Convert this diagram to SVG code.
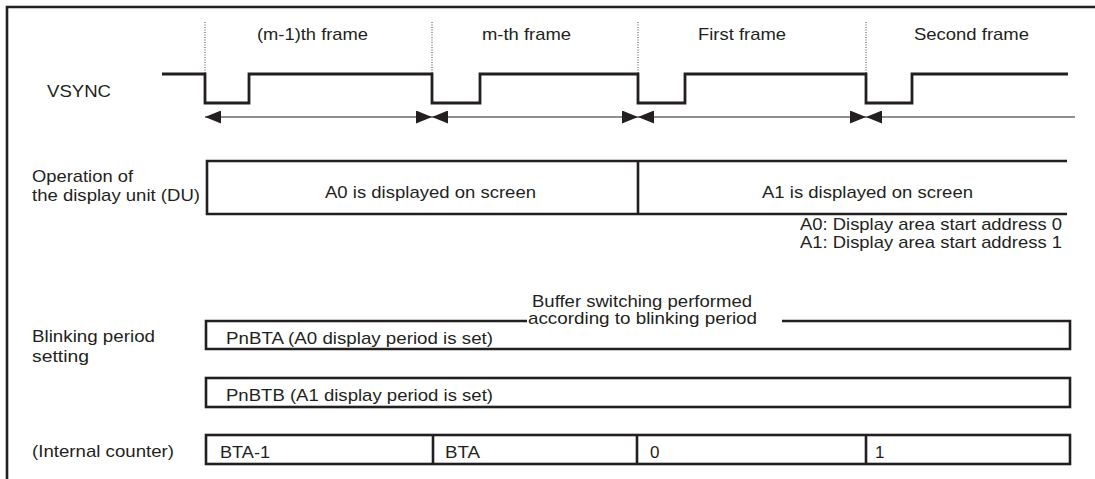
<svg xmlns="http://www.w3.org/2000/svg" width="1095" height="479" viewBox="0 0 1095 479">
<style>
  text { font-family: "Liberation Sans", Arial, sans-serif; font-size: 17px; fill: #231f20; }
  .thick { fill: none; stroke: #231f20; stroke-width: 2.6; }
  .wave { fill: none; stroke: #231f20; stroke-width: 2.8; }
  .thin { fill: none; stroke: #231f20; stroke-width: 1.2; }
  .dot { fill: none; stroke: #444; stroke-width: 1; stroke-dasharray: 1 1.5; }
</style>
<defs>
  <marker id="ah" markerUnits="userSpaceOnUse" markerWidth="16" markerHeight="13" refX="16" refY="6.5" orient="auto-start-reverse" viewBox="0 0 16 13">
    <path d="M0,0 L16,6.5 L0,13 z" fill="#231f20"/>
  </marker>
</defs>
<rect width="1095" height="479" fill="#fff"/>
<g id="frame">
  <path class="thick" d="M7,479 V7 H1095"/>
</g>
<g id="frame-labels">
  <line class="dot" x1="205" y1="22" x2="205" y2="74"/>
  <line class="dot" x1="432" y1="22" x2="432" y2="74"/>
  <line class="dot" x1="638" y1="22" x2="638" y2="74"/>
  <line class="dot" x1="866" y1="22" x2="866" y2="74"/>
  <text x="257" y="40" textLength="111" lengthAdjust="spacingAndGlyphs">(m-1)th frame</text>
  <text x="482" y="40" textLength="89" lengthAdjust="spacingAndGlyphs">m-th frame</text>
  <text x="698" y="40" textLength="88" lengthAdjust="spacingAndGlyphs">First frame</text>
  <text x="914" y="40" textLength="115" lengthAdjust="spacingAndGlyphs">Second frame</text>
</g>
<g id="vsync">
  <text x="47" y="97" textLength="64" lengthAdjust="spacingAndGlyphs">VSYNC</text>
  <path class="wave" d="M162,74 H205 V103 H249 V74 H432 V103 H480 V74 H638 V103 H685 V74 H866 V103 H912 V74 H1068"/>
</g>
<g id="connectors">
  <line class="thin" x1="205" y1="117" x2="432" y2="117" marker-start="url(#ah)" marker-end="url(#ah)"/>
  <line class="thin" x1="432" y1="117" x2="638" y2="117" marker-start="url(#ah)" marker-end="url(#ah)"/>
  <line class="thin" x1="638" y1="117" x2="866" y2="117" marker-start="url(#ah)" marker-end="url(#ah)"/>
  <line class="thin" x1="866" y1="117" x2="1075" y2="117" marker-start="url(#ah)"/>
</g>
<g id="du">
  <text x="32" y="182" textLength="101" lengthAdjust="spacingAndGlyphs">Operation of</text>
  <text x="32" y="201" textLength="168" lengthAdjust="spacingAndGlyphs">the display unit (DU)</text>
  <path class="thick" d="M1067,161 H207 V214 H1067 M638,161 V214"/>
  <text x="325" y="198" textLength="211" lengthAdjust="spacingAndGlyphs">A0 is displayed on screen</text>
  <text x="762" y="198" textLength="211" lengthAdjust="spacingAndGlyphs">A1 is displayed on screen</text>
</g>
<g id="legend">
  <text x="800" y="230" textLength="262" lengthAdjust="spacingAndGlyphs">A0: Display area start address 0</text>
  <text x="800" y="248" textLength="262" lengthAdjust="spacingAndGlyphs">A1: Display area start address 1</text>
</g>
<g id="blinking">
  <text x="32" y="342" textLength="123" lengthAdjust="spacingAndGlyphs">Blinking period</text>
  <text x="32" y="362" textLength="57" lengthAdjust="spacingAndGlyphs">setting</text>
  <text x="532" y="307" textLength="220" lengthAdjust="spacingAndGlyphs">Buffer switching performed</text>
  <text x="528" y="324" textLength="229" lengthAdjust="spacingAndGlyphs">according to blinking period</text>
</g>
<g id="pnbta">
  <path class="thick" d="M527,321 H206 V349 H1070 V321 H782"/>
  <text x="226" y="344" textLength="267" lengthAdjust="spacingAndGlyphs">PnBTA (A0 display period is set)</text>
</g>
<g id="pnbtb">
  <rect class="thick" x="206" y="378" width="864" height="29"/>
  <text x="226" y="401" textLength="267" lengthAdjust="spacingAndGlyphs">PnBTB (A1 display period is set)</text>
</g>
<g id="counter">
  <text x="32" y="457" textLength="142" lengthAdjust="spacingAndGlyphs">(Internal counter)</text>
  <rect class="thick" x="206" y="435" width="864" height="29"/>
  <path class="thick" d="M433,435 V464 M637,435 V464 M866,435 V464"/>
  <text x="220" y="458" textLength="50" lengthAdjust="spacingAndGlyphs">BTA-1</text>
  <text x="445" y="458" textLength="35" lengthAdjust="spacingAndGlyphs">BTA</text>
  <text x="650" y="458">0</text>
  <text x="875" y="458">1</text>
</g>
</svg>
